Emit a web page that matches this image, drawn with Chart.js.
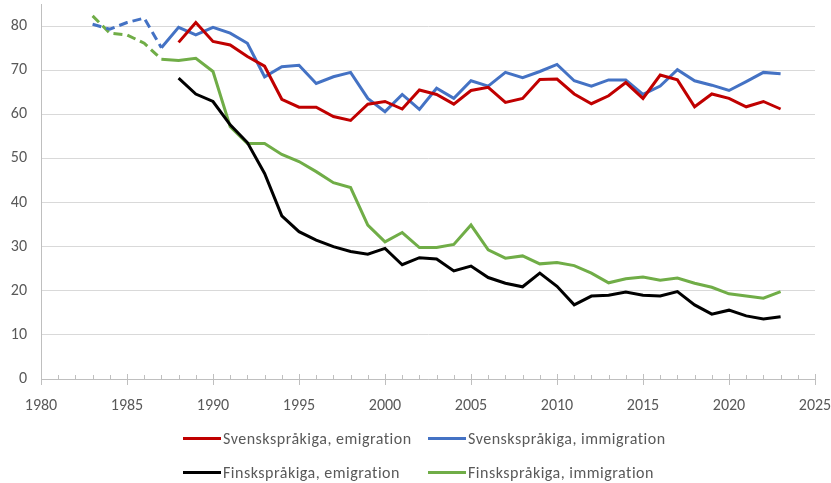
<!DOCTYPE html>
<html>
<head>
<meta charset="utf-8">
<script src="https://cdn.jsdelivr.net/npm/chart.js@4"></script>
<style>
  html, body { margin: 0; padding: 0; background: #fff; }
  #wrap { position: relative; width: 831px; height: 483px; }
  #legend { position: absolute; left: 0; top: 0; width: 831px; height: 483px; pointer-events: none;
    font-family: Carlito, Lato, "Liberation Sans", sans-serif; font-size: 16px; letter-spacing: 0.5px; color: #595959; }
  .lg { position: absolute; display: flex; align-items: center; white-space: nowrap; }
  .lg i { display: inline-block; width: 38px; height: 3px; margin-right: 2px; }
</style>
</head>
<body>
<div id="wrap">
  <canvas id="chart" width="831" height="483"></canvas>
  <div id="legend"></div>
</div>
<script>
const years = [1983, 1984, 1985, 1986, 1987, 1988, 1989, 1990, 1991, 1992, 1993, 1994, 1995, 1996, 1997, 1998, 1999, 2000,
  2001, 2002, 2003, 2004, 2005, 2006, 2007, 2008, 2009, 2010, 2011, 2012, 2013, 2014, 2015, 2016, 2017, 2018, 2019, 2020,
  2021, 2022, 2023];
const emigStart = 1988;
const dashedUntil = 1987;

const svEmigration = [76.3, 80.8, 76.5, 75.7, 73.1, 70.9, 63.4, 61.6, 61.6, 59.5, 58.6, 62.3, 62.9, 61.2, 65.5, 64.5,
  62.3, 65.4, 66.1, 62.7, 63.6, 67.9, 68.0, 64.6, 62.4, 64.2, 67.2, 63.6, 68.9, 67.8, 61.7, 64.6, 63.6, 61.7, 62.9, 61.2];
const svImmigration = [80.4, 79.3, 80.8, 81.8, 75.1, 79.7, 78.0, 79.7, 78.4, 76.1, 68.5, 70.8, 71.1, 67.0, 68.5, 69.5,
  63.6, 60.6, 64.5, 61.1, 65.9, 63.6, 67.6, 66.4, 69.5, 68.3, 69.7, 71.3, 67.6, 66.4, 67.8, 67.8, 64.5, 66.4, 70.1, 67.6,
  66.6, 65.4, 67.4, 69.5, 69.2];
const fiEmigration = [68.2, 64.6, 62.9, 57.6, 53.6, 46.6, 37.0, 33.4, 31.5, 30.0, 28.9, 28.3, 29.6, 25.9, 27.5, 27.2,
  24.5, 25.6, 23.0, 21.7, 20.9, 24.0, 21.0, 16.8, 18.8, 19.0, 19.7, 19.0, 18.8, 19.8, 16.8, 14.7, 15.6, 14.3, 13.6, 14.1];
const fiImmigration = [82.3, 78.4, 78.0, 76.1, 72.5, 72.2, 72.7, 69.7, 57.2, 53.4, 53.4, 50.9, 49.3, 47.0, 44.5, 43.4,
  34.9, 31.1, 33.2, 29.8, 29.8, 30.5, 34.9, 29.3, 27.4, 27.9, 26.1, 26.4, 25.7, 24.0, 21.8, 22.7, 23.1, 22.4, 22.9, 21.7,
  20.8, 19.3, 18.8, 18.3, 19.8];

const seriesLabels = ['Svenskspråkiga, emigration', 'Svenskspråkiga, immigration', 'Finskspråkiga, emigration', 'Finskspråkiga, immigration'];
const seriesColors = ['#C00000', '#4472C4', '#000000', '#70AD47'];

const emigYears = years.filter(y => y >= emigStart);
const pts = (xs, ys) => xs.map((x, i) => ({ x, y: ys[i] }));

const FONT = 'Carlito, Lato, "Liberation Sans", sans-serif';

// Excel-style tick marks on the x axis: crossing majors every 5 years, inside minors every year
const xTicks = {
  id: 'xTicks',
  afterDraw(chart) {
    const sx = chart.scales.x, ctx = chart.ctx, base = chart.chartArea.bottom;
    ctx.save();
    ctx.strokeStyle = '#bfbfbf';
    ctx.lineWidth = 1;
    for (let yr = sx.min; yr <= sx.max; yr++) {
      const px = Math.round(sx.getPixelForValue(yr)) + 0.5;
      ctx.beginPath();
      if (yr % 5 === 0) { ctx.moveTo(px, base - 5); ctx.lineTo(px, base + 6); }
      else { ctx.moveTo(px, base - 4); ctx.lineTo(px, base); }
      ctx.stroke();
    }
    ctx.restore();
  }
};

const series = [
  pts(emigYears, svEmigration),
  pts(years, svImmigration),
  pts(emigYears, fiEmigration),
  pts(years, fiImmigration),
];

const chart = new Chart(document.getElementById('chart'), {
  type: 'line',
  data: {
    datasets: series.map((data, i) => ({
      label: seriesLabels[i],
      data,
      borderColor: seriesColors[i],
      backgroundColor: seriesColors[i],
      borderWidth: 3,
      pointRadius: 0,
      tension: 0,
      fill: false,
      segment: { borderDash: c => (c.p1.parsed.x <= dashedUntil ? [9, 5] : undefined) },
    })),
  },
  options: {
    responsive: false,
    animation: false,
    layout: { padding: { top: 4, right: 0, bottom: 70, left: 0 } },
    plugins: { legend: { display: false }, tooltip: { enabled: false } },
    scales: {
      x: {
        type: 'linear', min: 1980, max: 2025,
        grid: { display: false, drawTicks: false },
        border: { color: '#bfbfbf' },
        ticks: { stepSize: 5, padding: 17, color: '#595959', font: { family: FONT, size: 16 }, callback: v => String(v) },
        afterFit: s => { s.height = 34; s.paddingRight = 16; s.paddingLeft = 0; },
      },
      y: {
        min: 0, max: 85,
        afterBuildTicks: s => { s.ticks = s.ticks.filter(t => t.value <= 80); },
        grid: { color: '#d9d9d9', drawTicks: false },
        border: { color: '#bfbfbf' },
        ticks: { stepSize: 10, padding: 14, color: '#595959', font: { family: FONT, size: 16 } },
        afterFit: s => { s.width = 41; s.paddingTop = 0; s.paddingBottom = 0; },
      },
    },
  },
  plugins: [xTicks],
});

// legend laid out as in the reference: two rows of two
const legendPos = [[183, 438], [428, 438], [183, 472], [428, 472]];
document.getElementById('legend').innerHTML = chart.data.datasets.map((d, i) =>
  `<div class="lg" style="left:${legendPos[i][0]}px;top:${legendPos[i][1] - 10}px;height:20px"><i style="background:${d.borderColor}"></i>${d.label}</div>`
).join('');
</script>
</body>
</html>
